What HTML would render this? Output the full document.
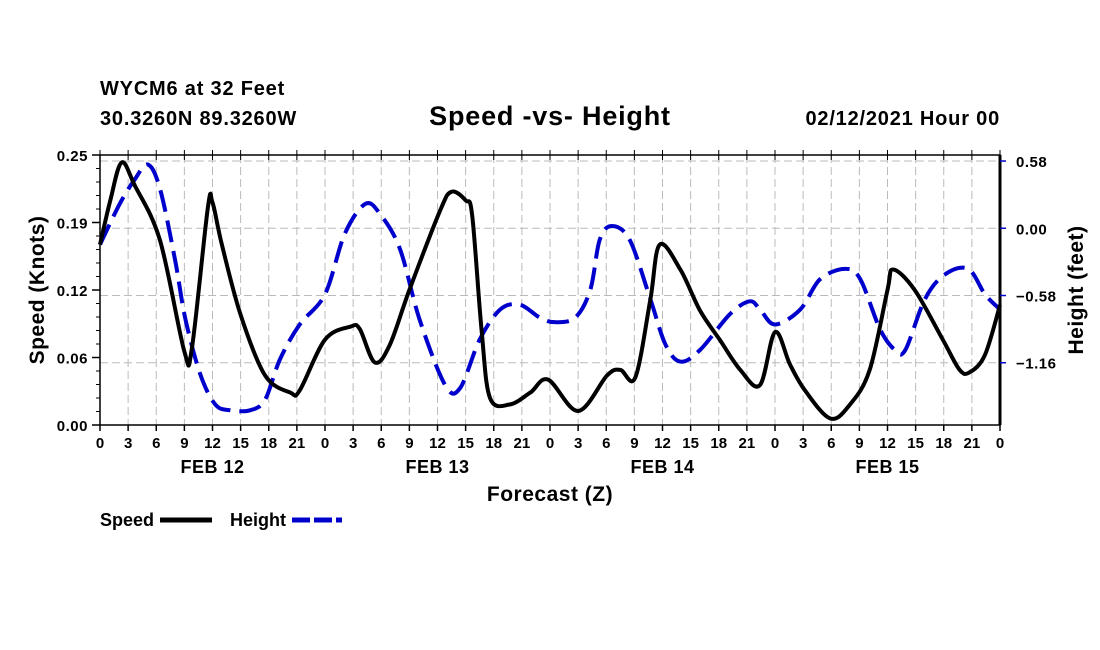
<!DOCTYPE html>
<html><head><meta charset="utf-8"><style>
body{margin:0;background:#fff;}
svg{display:block;font-family:"Liberation Sans",sans-serif;font-weight:bold;}
</style></head><body>
<svg id="c" width="1100" height="650" viewBox="0 0 1100 650">
<text x="100" y="95" font-size="20" letter-spacing="0.8">WYCM6 at 32 Feet</text>
<text x="100" y="125" font-size="20" letter-spacing="0.8">30.3260N 89.3260W</text>
<text x="550" y="125" font-size="27" letter-spacing="0.8" text-anchor="middle">Speed -vs- Height</text>
<text x="1000" y="125" font-size="20" letter-spacing="0.8" text-anchor="end">02/12/2021 Hour 00</text>
<g id="grid"></g>
<g id="axes"></g>
<g id="series"></g>
<text transform="translate(44,290) rotate(-90)" font-size="21" letter-spacing="0.5" text-anchor="middle">Speed (Knots)</text>
<text transform="translate(1083,290) rotate(-90)" font-size="21" letter-spacing="0.5" text-anchor="middle">Height (feet)</text>
<text x="550" y="501" font-size="21" letter-spacing="0.5" text-anchor="middle">Forecast (Z)</text>
<g>
<text x="100" y="526" font-size="18">Speed</text>
<line x1="160" y1="520" x2="212" y2="520" stroke="#000" stroke-width="5"/>
<text x="230" y="526" font-size="18">Height</text>
<line x1="292" y1="520" x2="342" y2="520" stroke="#00c" stroke-width="5" stroke-dasharray="18,4"/>
</g>
</svg>
<script>
const speedHours=[0,1.1,2.3,3.7,6.4,9,9.8,11.5,12,13,15,17.6,20.3,21.3,24,26.7,27.7,29.3,30.9,33,36.3,37.5,39,39.7,40.7,41.6,43.7,45.9,47.8,51,54.1,55.5,57.1,58.7,59.7,61.9,64,66.1,68.3,70.4,72,73.6,75.2,77.9,80,82.1,84,84.6,86.9,89.9,91.7,92.8,94.4,96];
const speedValues=[0.167,0.208,0.243,0.222,0.171,0.068,0.071,0.201,0.206,0.167,0.102,0.046,0.030,0.032,0.079,0.091,0.089,0.058,0.074,0.125,0.199,0.216,0.208,0.194,0.088,0.025,0.019,0.030,0.042,0.013,0.046,0.051,0.044,0.116,0.167,0.144,0.106,0.079,0.051,0.037,0.086,0.056,0.032,0.006,0.019,0.051,0.125,0.144,0.125,0.079,0.051,0.049,0.065,0.111];
const heightHours=[0,2.1,3.7,5.1,6.4,8,9.1,10.7,12.3,13.9,16,17.6,19.2,21.3,24,26.1,28.3,29.9,32,34.1,36.8,38.4,40.5,42.7,44.8,46.9,48.5,50.7,52.3,53.3,54.6,56.5,58.7,60.3,61.9,64,67.2,69.3,70.4,72,74.7,76.8,79.5,81.1,83.2,84.8,85.9,88,90.1,92.6,94.4,96];
const heightValues=[-0.14,0.21,0.42,0.55,0.34,-0.27,-0.78,-1.26,-1.52,-1.57,-1.57,-1.48,-1.13,-0.83,-0.57,-0.05,0.21,0.12,-0.18,-0.79,-1.35,-1.38,-0.96,-0.70,-0.66,-0.77,-0.81,-0.77,-0.53,-0.10,0.02,-0.10,-0.61,-1.00,-1.15,-1.05,-0.74,-0.63,-0.70,-0.83,-0.70,-0.44,-0.35,-0.44,-0.87,-1.05,-1.05,-0.61,-0.40,-0.35,-0.57,-0.70];
const leftTicks=[0,0.0625,0.125,0.1875,0.25];
const leftTickLabels=["0.00","0.06","0.12","0.19","0.25"];
const rightTicks=[0.58,0,-0.58,-1.16];
const rightTickLabels=["0.58","0.00","\u22120.58","\u22121.16"];
const dayLabels=["FEB 12","FEB 13","FEB 14","FEB 15"];
const L=100,R=1000,T=155,B=425;
const xS=h=>L+(R-L)*h/96;
const yL=v=>B-(B-T)*v/0.25;
const hMin=-1.697,hMax=0.632;
const yR=v=>B-(B-T)*(v-hMin)/(hMax-hMin);
const NS='http://www.w3.org/2000/svg';
function mk(tag,attrs,parent,txt){const e=document.createElementNS(NS,tag);for(const k in attrs)e.setAttribute(k,attrs[k]);if(txt!==undefined)e.textContent=txt;parent.appendChild(e);return e;}
const grid=document.getElementById('grid'),axes=document.getElementById('axes'),series=document.getElementById('series');
for(let h=3;h<96;h+=3){const g=mk('line',{x1:xS(h),x2:xS(h),y1:T,y2:B,stroke:'#bbb','stroke-width':1,'stroke-dasharray':'8,4'},grid);

}
rightTicks.forEach(v=>{const g=mk('line',{x1:L,x2:R,y1:yR(v),y2:yR(v),stroke:'#bbb','stroke-width':1,'stroke-dasharray':'8,4'},grid);

});
const frame=mk('rect',{x:L,y:T,width:R-L,height:B-T,fill:'none',stroke:'#000','stroke-width':1.5},axes);


const ra=mk('line',{x1:R,x2:R,y1:T,y2:B,stroke:'#000','stroke-width':3},axes);


for(let h=0;h<=96;h+=3){const x=xS(h);
mk('line',{x1:x,x2:x,y1:B,y2:B+6,stroke:'#000','stroke-width':1.5},axes);
mk('line',{x1:x,x2:x,y1:T-5,y2:T+5,stroke:'#000','stroke-width':1},axes);
const t=mk('text',{x:x,y:B+23,'font-size':15,'text-anchor':'middle'},axes,String(h%24));

}
dayLabels.forEach((d,i)=>{const t=mk('text',{x:xS(12+24*i),y:B+48,'font-size':18,'letter-spacing':0.5,'text-anchor':'middle'},axes,d);

});
for(let v=0;v<=0.2501;v+=0.0125){mk('line',{x1:L-4,x2:L,y1:yL(v),y2:yL(v),stroke:'#000','stroke-width':1},axes);}
leftTicks.forEach((v,i)=>{mk('line',{x1:L-8,x2:L,y1:yL(v),y2:yL(v),stroke:'#000','stroke-width':1.5},axes);
const t=mk('text',{x:L-12,y:yL(v)+6,'font-size':15,'letter-spacing':0.5,'text-anchor':'end'},axes,leftTickLabels[i]);

});
rightTicks.forEach((v,i)=>{mk('line',{x1:R,x2:R+6,y1:yR(v),y2:yR(v),stroke:'#00c','stroke-width':1.5},axes);
const t=mk('text',{x:R+16,y:yR(v)+6,'font-size':15,'letter-spacing':0.5},axes,rightTickLabels[i]);

});
function pathFor(xs,ys){const p=xs.map((x,i)=>[x,ys[i]]);let d='M'+p[0][0]+','+p[0][1];
for(let i=0;i<p.length-1;i++){const p0=p[i-1]||p[i],p1=p[i],p2=p[i+1],p3=p[i+2]||p2;
const c1=[p1[0]+(p2[0]-p0[0])/6,p1[1]+(p2[1]-p0[1])/6],c2=[p2[0]-(p3[0]-p1[0])/6,p2[1]-(p3[1]-p1[1])/6];
d+=' C'+c1[0]+','+c1[1]+' '+c2[0]+','+c2[1]+' '+p2[0]+','+p2[1];}return d;}
const hp=mk('path',{d:pathFor(heightHours.map(xS),heightValues.map(yR)),fill:'none',stroke:'#00c','stroke-width':4,'stroke-dasharray':'22,9'},series);


const sp=mk('path',{d:pathFor(speedHours.map(xS),speedValues.map(yL)),fill:'none',stroke:'#000','stroke-width':4,'stroke-linejoin':'round'},series);


</script>
</body></html>
